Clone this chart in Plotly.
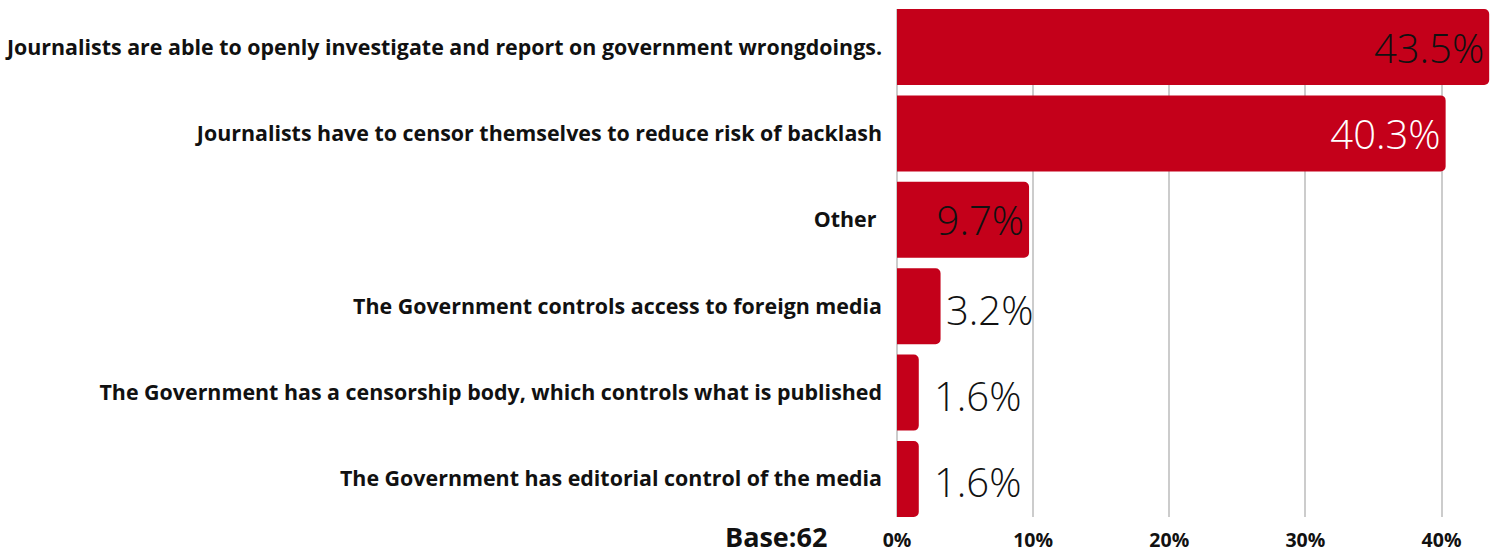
import plotly.graph_objects as go

# Survey responses, in display order (top to bottom)
categories = [
    "Journalists are able to openly investigate and report on government wrongdoings.",
    "Journalists have to censor themselves to reduce risk of backlash",
    "Other ",
    "The Government controls access to foreign media",
    "The Government has a censorship body, which controls what is published",
    "The Government has editorial control of the media",
]
shares = [43.5, 40.3, 9.7, 3.2, 1.6, 1.6]
value_labels = ["43.5%", "40.3%", "9.7%", "3.2%", "1.6%", "1.6%"]
label_inside = [True, True, True, False, False, False]
label_colors = ["#111111", "#ffffff", "#111111", "#111111", "#111111", "#111111"]
x_ticks = [0, 10, 20, 30, 40]
x_tick_text = ["0%", "10%", "20%", "30%", "40%"]
base_note = "Base:62"

BAR_RED = "#C4001A"
GRID = "#cccccc"
VALUE_FONT = dict(family="Open Sans", size=40, weight=300)

# Labels inside the bars are drawn by the trace; short bars get theirs beside them
inside_text = [t if ins else "" for t, ins in zip(value_labels, label_inside)]

fig = go.Figure(
    go.Bar(
        y=categories,
        x=shares,
        orientation="h",
        marker=dict(color=BAR_RED, line=dict(width=0)),
        text=inside_text,
        textposition="inside",
        insidetextanchor="end",
        textfont=dict(**VALUE_FONT, color=label_colors),
        cliponaxis=False,
        hoverinfo="skip",
    )
)

outside_shift = {3.2: 3, 1.6: 13}
for cat, val, txt, ins, col in zip(categories, shares, value_labels, label_inside, label_colors):
    if ins:
        continue
    fig.add_annotation(
        x=val,
        y=cat,
        xref="x",
        yref="y",
        text=txt,
        showarrow=False,
        xanchor="left",
        yanchor="middle",
        xshift=outside_shift.get(val, 3),
        yshift=-3,
        font=dict(**VALUE_FONT, color=col),
    )

gap = 0.12
fig.update_layout(
    width=1502,
    height=551,
    margin=dict(l=897, r=6, t=9, b=34, autoexpand=False),
    paper_bgcolor="white",
    plot_bgcolor="white",
    bargap=gap,
    barcornerradius=5,
    showlegend=False,
    font=dict(family="Open Sans", color="#111111"),
    xaxis=dict(
        range=[0, 44],
        tickvals=x_ticks,
        ticktext=x_tick_text,
        tickfont=dict(family="Open Sans", size=19.5, weight="bold", color="#111111"),
        showgrid=True,
        gridcolor=GRID,
        gridwidth=2,
        zeroline=True,
        zerolinecolor=GRID,
        zerolinewidth=2,
        showline=False,
        ticks="",
        ticklabelstandoff=9,
        automargin=False,
        fixedrange=True,
    ),
    yaxis=dict(
        range=[len(categories) - 0.5 - gap / 2, -0.5 + gap / 2],
        tickfont=dict(family="Open Sans", size=21.4, weight="bold", color="#111111"),
        showgrid=False,
        showline=False,
        ticks="",
        ticklabelstandoff=14,
        automargin=False,
        fixedrange=True,
    ),
    annotations=list(fig.layout.annotations) + [
        dict(
            text=base_note,
            xref="paper",
            yref="paper",
            x=(776 - 897) / 599,
            y=-19 / 508,
            xanchor="center",
            yanchor="middle",
            showarrow=False,
            font=dict(family="Open Sans", size=27, weight="bold", color="#111111"),
        )
    ],
)

fig.write_html("out.html")
